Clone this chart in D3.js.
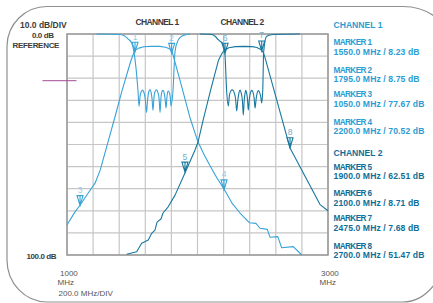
<!DOCTYPE html>
<html>
<head>
<meta charset="utf-8">
<script src="https://cdn.jsdelivr.net/npm/d3@7"></script>
<style>
body { margin: 0; background: #fff; }
text { font-family: "Liberation Sans", Arial, sans-serif; }
</style>
</head>
<body>
<div id="chart"></div>
<script>
// traces: [frequency MHz, attenuation dB]
var ch1Thru = [[1000,86.4],[1060,80.6],[1100,77.5],[1160,72.2],[1215,67.5],[1255,61.5],[1290,54],[1330,45.5],[1370,37],
  [1420,26],[1460,18],[1490,12],[1510,8.8],[1525,7.3],[1550,6.4],[1590,5.8],[1640,5.6],[1710,5.6],[1755,6],[1785,6.7],
  [1805,7.9],[1866,21],[1943,38],[2004,48.9],[2050,54.5],[2096,59.6],[2150,65.3],[2203,70.1],[2264,76.5],[2326,81],
  [2397,85.4],[2448,85.7],[2479,87.9],[2535,88.4],[2556,92],[2615,91.7],[2645,96.7],[2734,96.2],[2799,100]]

var ch1Refl = [[1227,0],[1400,0.2],[1440,0.8],[1467,2.2],[1496,4.1],[1513,8.1],[1544,25.8],[1552,32.7],
  [1560,28],[1570,26],[1579,25.4],[1590,26.5],[1600,29.5],[1609,35.5],[1618,29.5],[1627,26],[1636,25.3],[1645,26.5],
  [1652,29.5],[1659,34.5],[1666,29],[1675,26],[1686,25.3],[1697,26.5],[1706,29.5],[1713,35.5],[1720,29],[1728,26],
  [1736,25.5],[1744,26.5],[1752,29.5],[1759,33.5],[1766,28.5],[1772,26.2],[1778,25.8],[1785,26.8],[1792,29],
  [1797,32.5],[1812,25.8],[1828,7.8],[1850,3],[1879,1],[1910,0.3],[1943,0]]

var ch2Thru = [[1457,99.7],[1534,98.5],[1572,94.7],[1623,93.2],[1649,90.2],[1674,88.7],[1690,85.1],[1720,83.7],
  [1736,81],[1774,78.3],[1828,72.9],[1904,62.9],[1981,52.5],[2004,48.9],[2044,38.8],[2100,25.5],[2160,12],[2190,8.5],
  [2210,7.2],[2240,6.2],[2290,5.7],[2360,5.6],[2420,5.7],[2455,6.1],[2485,7],[2505,8.4],[2519,11],[2709,51.6],
  [2939,77.2],[3000,80]]

var ch2Refl = [[2019,0],[2109,0.2],[2135,1],[2159,2.6],[2198,4.8],[2210,9],[2224,26.5],[2236,32.6],
  [2244,28],[2255,25.8],[2268,25.3],[2281,26.5],[2292,29.5],[2300,34.8],[2310,29.5],[2318,26.5],[2326,25.4],
  [2334,26.5],[2344,30],[2351,36.7],[2358,30],[2365,26.5],[2370,25.5],[2376,26.5],[2383,29.5],[2389,34.4],
  [2398,29],[2408,26.2],[2415,25.5],[2425,26.3],[2434,29],[2441,33.5],[2450,29],[2459,26.3],[2467,25.6],
  [2476,26.5],[2485,28.5],[2492,31.2],[2500,25.5],[2507,8],[2530,1],[2580,0.2],[2785,0]]

// markers
var markerNo = [1, 2, 3, 4, 5, 6, 7, 8]
var markerChannel = [1, 1, 1, 1, 2, 2, 2, 2]
var markerDrawnAt = [1521, 1802, 1100, 2203, 1904, 2211, 2492, 2709]
var markerFreq = [1550, 1795, 1050, 2200, 1900, 2100, 2475, 2700]
var markerDb = [8.23, 8.75, 77.67, 70.52, 62.51, 8.71, 7.68, 51.47]

var xTicks = d3.range(1000, 3001, 200)
var yTicks = d3.range(0, 101, 10)

var colors = {1: "#37a3d8", 2: "#18789f"}
var textColors = {1: "#2b9dd3", 2: "#0f6e97"}
var numColors = {1: "#93cbe6", 2: "#72adc8"}

var width = 433
var height = 303

var svg = d3.select("#chart").append("svg")
    .attr("width", width)
    .attr("height", height)

var x = d3.scaleLinear().domain([1000, 3000]).range([67, 328])
var y = d3.scaleLinear().domain([0, 100]).range([34, 255])

// outer frame
svg.append("path")
    .attr("d", "M7,260 L7,46 A40,40 0 0 1 47,6.5 L403,6.5 A48,40 0 0 1 451,46.5 L451,230 A48,72 0 0 1 403,302 L47,302 A40,42 0 0 1 7,260 Z")
    .attr("fill", "none")
    .attr("stroke", "#8f8f8f")
    .attr("stroke-width", 1.2)

// grid
svg.append("g").selectAll("line").data(xTicks).join("line")
    .attr("x1", d => x(d)).attr("x2", d => x(d))
    .attr("y1", y(0)).attr("y2", y(100))
    .attr("stroke", "#c6c6c6").attr("stroke-width", 1.2)
svg.append("g").selectAll("line").data(yTicks).join("line")
    .attr("x1", x(1000)).attr("x2", x(3000))
    .attr("y1", d => y(d)).attr("y2", d => y(d))
    .attr("stroke", "#c6c6c6").attr("stroke-width", 1.2)
svg.append("rect")
    .attr("x", x(1000)).attr("y", y(0))
    .attr("width", x(3000) - x(1000)).attr("height", y(100) - y(0))
    .attr("fill", "none").attr("stroke", "#9d9d9d").attr("stroke-width", 1.6)

// reference line
svg.append("line")
    .attr("x1", 42.5).attr("x2", 76.5)
    .attr("y1", 80.7).attr("y2", 80.7)
    .attr("stroke", "#a24d96").attr("stroke-width", 1)

// traces
var lineLin = d3.line().x(d => x(d[0])).y(d => y(d[1]))
var lineSmooth = d3.line().x(d => x(d[0])).y(d => y(d[1])).curve(d3.curveMonotoneX)

function drawTrace(data, gen, color) {
    svg.append("path")
        .attr("d", gen(data))
        .attr("fill", "none")
        .attr("stroke", color)
        .attr("stroke-width", 1.1)
        .attr("stroke-linejoin", "round")
}
drawTrace(ch1Refl, lineSmooth, colors[1])
drawTrace(ch1Thru, lineLin, colors[1])
drawTrace(ch2Refl, lineSmooth, colors[2])
drawTrace(ch2Thru, lineLin, colors[2])

// marker symbols
var mk = svg.append("g").selectAll("g").data(markerNo).join("g")
    .attr("transform", (d, i) => "translate(" + x(markerDrawnAt[i]) + "," + y(markerDb[i]) + ")")
mk.append("path")
    .attr("d", "M-3,-10 L3,-10 L0,0 Z M0,-10 L0,0")
    .attr("fill", "none")
    .attr("stroke", (d, i) => colors[markerChannel[i]])
    .attr("stroke-width", 1.1)
mk.append("text")
    .attr("y", -12.5)
    .attr("text-anchor", "middle")
    .attr("font-size", 8.5)
    .attr("fill", (d, i) => numColors[markerChannel[i]])
    .text(d => d)

// labels around the plot
function label(txt, px, py, opts) {
    var t = svg.append("text")
        .attr("x", px).attr("y", py)
        .attr("font-size", opts.size || 8)
        .attr("font-weight", opts.bold ? "bold" : "normal")
        .attr("fill", opts.color || "#3c3c3c")
        .attr("letter-spacing", opts.ls || 0)
        .text(txt)
    return t
}
label("10.0 dB/DIV", 20, 28, {bold: true, size: 8.5, ls: 0})
label("0.0 dB", 32, 38, {bold: true, size: 8, ls: -0.4})
label("REFERENCE", 12.5, 48, {bold: true, size: 8, ls: -0.3})
label("100.0 dB", 26.5, 259, {bold: true, size: 8, ls: -0.4})
label("CHANNEL 1", 135.5, 24.5, {bold: true, size: 8.5, ls: -0.6})
label("CHANNEL 2", 220.5, 24.5, {bold: true, size: 8.5, ls: -0.6})
label("1000", 60, 275.5, {size: 8, color: "#555"})
label("MHz", 57.5, 285, {size: 8, color: "#555"})
label("200.0 MHz/DIV", 58.5, 295.5, {size: 8, color: "#555"})
label("3000", 321, 275.5, {size: 8, color: "#555"})
label("MHz", 319.5, 285, {size: 8, color: "#555"})

// legend
var fmtF = d3.format(".1f")
var fmtD = d3.format(".2f")
var legendTop = {1: 28, 2: 155.5}
var legendRows = [42.3, 70, 94.3, 121.7, 166.7, 193.3, 218.3, 246]
label("CHANNEL 1", 333.5, legendTop[1], {bold: true, size: 8.6, color: textColors[1], ls: 0})
label("CHANNEL 2", 333.5, legendTop[2], {bold: true, size: 8.6, color: textColors[2], ls: 0})
markerNo.forEach(function(n, i) {
    var c = textColors[markerChannel[i]]
    label("MARKER " + n, 333.5, legendRows[i] + 3, {bold: true, size: 8.2, color: c, ls: -0.6})
    label(fmtF(markerFreq[i]) + " MHz / " + fmtD(markerDb[i]) + " dB", 333.5, legendRows[i] + 12.3,
        {bold: true, size: 8.6, color: c, ls: 0.1})
})
</script>
</body>
</html>
